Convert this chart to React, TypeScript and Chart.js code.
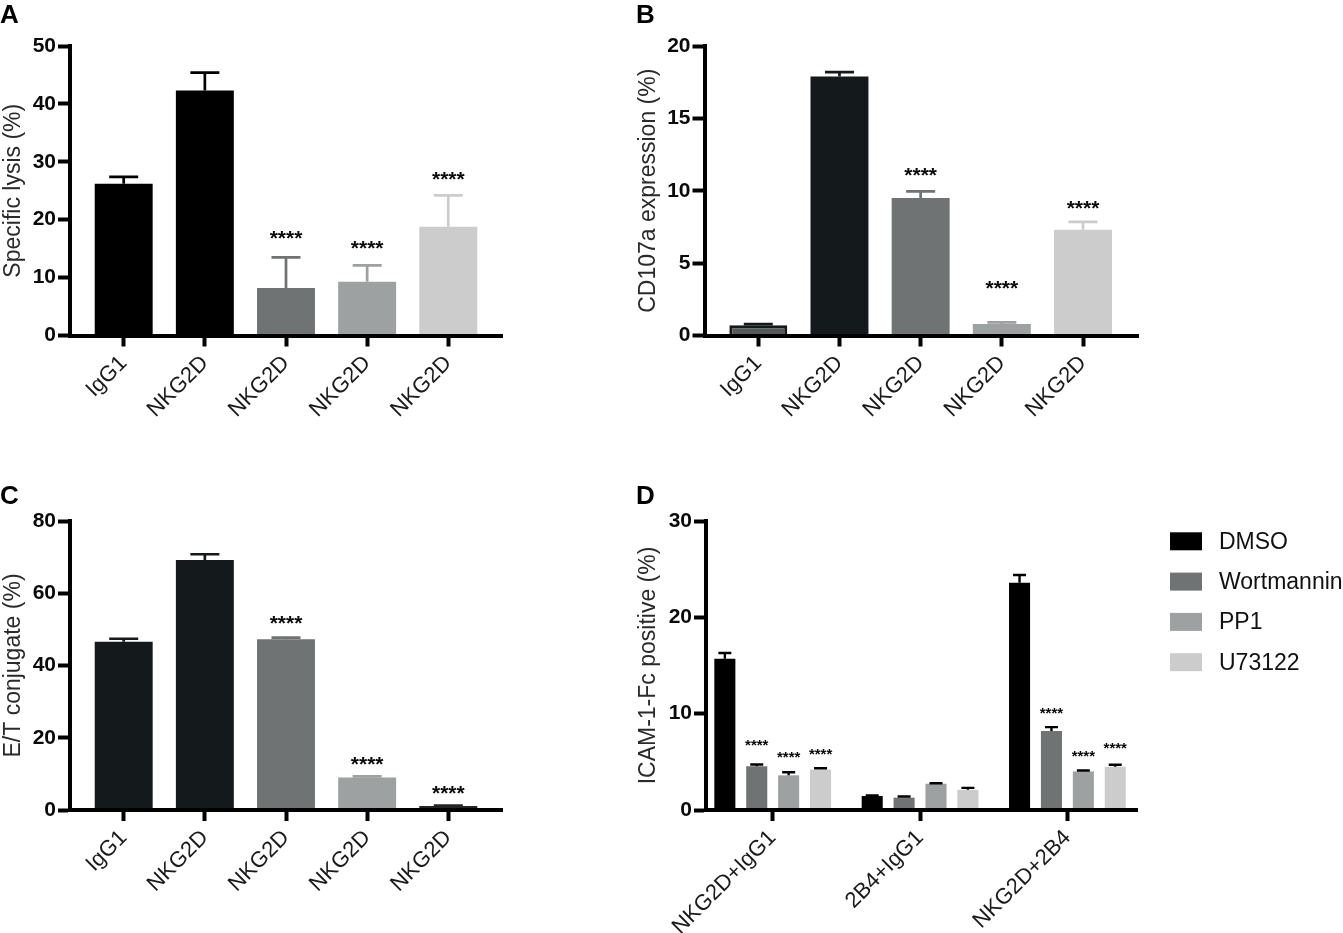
import { useEffect, useRef } from 'react';
import Chart from 'chart.js/auto';

const FONT = '"Liberation Sans", Arial, sans-serif';

const BLACK = '#000000';
const DARK = '#14191b';
const GREY0 = '#555859';
const GREY1 = '#6f7373';
const GREY2 = '#9da1a1';
const GREY3 = '#cccccc';

const singleLabels = ['IgG1', 'NKG2D', 'NKG2D', 'NKG2D', 'NKG2D'];

// panel A
const lysisValues = [26.2, 42.3, 8.2, 9.3, 18.8];
const lysisErrTops = [27.4, 45.4, 13.5, 12.1, 24.2];
const lysisStars = [null, null, 17.4, 15.6, 27.5];
const lysisColors = [BLACK, BLACK, GREY1, GREY2, GREY3];

// panel B
const cd107Values = [0.7, 17.9, 9.5, 0.8, 7.3];
const cd107ErrTops = [0.78, 18.2, 9.95, 0.9, 7.85];
const cd107Stars = [null, null, 11.3, 3.5, 9.03];
const cd107Colors = [GREY0, DARK, GREY1, GREY2, GREY3];
const cd107ErrColors = [DARK, DARK, GREY1, GREY2, GREY3];

// panel C
const conjugateValues = [46.6, 69.2, 47.3, 9.0, 1.1];
const conjugateErrTops = [47.4, 70.8, 47.7, 9.3, 1.2];
const conjugateStars = [null, null, 52.6, 13.65, 5.54];
const conjugateColors = [DARK, DARK, GREY1, GREY2, '#222426'];

// panel D
const groupLabels = ['NKG2D+IgG1', '2B4+IgG1', 'NKG2D+2B4'];
const dmsoValues = [15.7, 1.45, 23.6];
const dmsoErrTops = [16.3, 1.5, 24.4];
const wortValues = [4.55, 1.28, 8.2];
const wortErrTops = [4.72, 1.4, 8.6];
const wortStars = [6.93, null, 10.3];
const pp1Values = [3.6, 2.73, 4.0];
const pp1ErrTops = [3.92, 2.77, 4.1];
const pp1Stars = [5.68, null, 5.77];
const u73Values = [4.2, 2.1, 4.5];
const u73ErrTops = [4.33, 2.3, 4.7];
const u73Stars = [5.99, null, 6.6];

const toPoints = (values: number[]) => values.map((y, x) => ({ x, y }));

// error bars (upper only) and the significance stars above them
const errorBarsPlugin = {
  id: 'errorBars',
  afterDatasetsDraw(chart: any, _args: any, opts: any) {
    const { ctx } = chart;
    const yScale = chart.scales.y;
    chart.data.datasets.forEach((ds: any, d: number) => {
      chart.getDatasetMeta(d).data.forEach((bar: any, i: number) => {
        const top = yScale.getPixelForValue(ds.errTops[i]);
        ctx.save();
        ctx.strokeStyle = Array.isArray(ds.errColors) ? ds.errColors[i] : ds.errColors;
        ctx.lineWidth = opts.lineWidth;
        ctx.beginPath();
        ctx.moveTo(bar.x, bar.y);
        ctx.lineTo(bar.x, top);
        ctx.moveTo(bar.x - opts.capWidth / 2, top);
        ctx.lineTo(bar.x + opts.capWidth / 2, top);
        ctx.stroke();
        const star = ds.stars ? ds.stars[i] : null;
        if (star !== null && star !== undefined) {
          ctx.fillStyle = '#0a0a0a';
          ctx.font = `bold ${opts.starSize}px ${FONT}`;
          ctx.textAlign = 'center';
          ctx.textBaseline = 'alphabetic';
          ctx.fillText('****', bar.x, yScale.getPixelForValue(star) + opts.starSize * 0.47);
        }
        ctx.restore();
      });
    });
  },
};

// legend with the exact swatch to text gap of the figure
const swatchLegendPlugin = {
  id: 'swatchLegend',
  afterDraw(chart: any, _args: any, opts: any) {
    if (!opts.show) return;
    const { ctx } = chart;
    ctx.save();
    chart.data.datasets.forEach((ds: any, i: number) => {
      const cy = opts.top + i * opts.rowHeight;
      ctx.fillStyle = ds.backgroundColor;
      ctx.fillRect(opts.left, cy - 9, 32, 18);
      ctx.fillStyle = '#111111';
      ctx.font = `23px ${FONT}`;
      ctx.textAlign = 'left';
      ctx.textBaseline = 'middle';
      ctx.fillText(ds.label, opts.left + 49, cy + 1);
    });
    ctx.restore();
  },
};

const panels: any[] = [
  {
    letter: 'A', left: 0, top: 0, width: 530, height: 470,
    axisLeft: 70, axisRight: 502, axisTop: 46, axisBottom: 335.5, firstTick: 123.7, lastTick: 448.3,
    yMax: 50, yStep: 10, yTitle: 'Specific lysis (%)', labels: singleLabels,
    datasets: [{ data: toPoints(lysisValues), errTops: lysisErrTops, stars: lysisStars, backgroundColor: lysisColors, errColors: lysisColors }],
    barPct: 0.714, catPct: 1, capWidth: 29, lineWidth: 2.7, starSize: 21,
  },
  {
    letter: 'B', left: 635, top: 0, width: 708, height: 470,
    axisLeft: 704.5, axisRight: 1138, axisTop: 46, axisBottom: 335.5, firstTick: 758.3, lastTick: 1083,
    yMax: 20, yStep: 5, yTitle: 'CD107a expression (%)', labels: singleLabels,
    datasets: [
      {
        data: toPoints(cd107Values),
        errTops: cd107ErrTops,
        stars: cd107Stars,
        backgroundColor: cd107Colors,
        errColors: cd107ErrColors,
        borderColor: DARK,
        borderWidth: [3, 0, 0, 0, 0],
      },
    ],
    barPct: 0.714, catPct: 1, capWidth: 29, lineWidth: 2.7, starSize: 21,
  },
  {
    letter: 'C', left: 0, top: 470, width: 530, height: 463,
    axisLeft: 70, axisRight: 502, axisTop: 521, axisBottom: 810, firstTick: 123.7, lastTick: 448.3,
    yMax: 80, yStep: 20, yTitle: 'E/T conjugate (%)', labels: singleLabels,
    datasets: [{ data: toPoints(conjugateValues), errTops: conjugateErrTops, stars: conjugateStars, backgroundColor: conjugateColors, errColors: conjugateColors }],
    barPct: 0.714, catPct: 1, capWidth: 29, lineWidth: 2.7, starSize: 21,
  },
  {
    letter: 'D', left: 635, top: 470, width: 708, height: 463,
    axisLeft: 706, axisRight: 1137, axisTop: 521, axisBottom: 810, firstTick: 772.7, lastTick: 1067.4,
    yMax: 30, yStep: 10, yTitle: 'ICAM-1-Fc positive (%)', labels: groupLabels,
    datasets: [
      { label: 'DMSO', data: toPoints(dmsoValues), errTops: dmsoErrTops, backgroundColor: BLACK, errColors: BLACK },
      { label: 'Wortmannin', data: toPoints(wortValues), errTops: wortErrTops, stars: wortStars, backgroundColor: GREY1, errColors: BLACK },
      { label: 'PP1', data: toPoints(pp1Values), errTops: pp1ErrTops, stars: pp1Stars, backgroundColor: GREY2, errColors: BLACK },
      { label: 'U73122', data: toPoints(u73Values), errTops: u73ErrTops, stars: u73Stars, backgroundColor: GREY3, errColors: BLACK },
    ],
    barPct: 0.66, catPct: 0.866, capWidth: 13, lineWidth: 2.4, starSize: 15,
    legend: { show: true, left: 535, top: 71.3, rowHeight: 40.3 },
  },
];

const buildConfig = (p: any): any => {
  const spacing = (p.lastTick - p.firstTick) / (p.labels.length - 1);
  return {
    type: 'bar',
    data: { datasets: p.datasets },
    plugins: [errorBarsPlugin, swatchLegendPlugin],
    options: {
      animation: false,
      responsive: false,
      layout: {
        padding: { left: 0, top: p.axisTop - p.top, right: p.left + p.width - p.axisRight, bottom: 0 },
      },
      datasets: { bar: { barPercentage: p.barPct, categoryPercentage: p.catPct } },
      scales: {
        x: {
          type: 'linear',
          offset: false,
          min: (p.axisLeft - p.firstTick) / spacing,
          max: p.labels.length - 1 + (p.axisRight - p.lastTick) / spacing,
          afterFit: (scale: any) => {
            scale.height = p.top + p.height - p.axisBottom;
          },
          border: { color: '#000', width: 4, z: 1 },
          grid: { offset: false, drawOnChartArea: false, drawTicks: true, tickLength: 11, tickWidth: 4, tickColor: '#000', z: 1 },
          ticks: {
            stepSize: 1,
            includeBounds: false,
            autoSkip: false,
            minRotation: 45,
            maxRotation: 45,
            padding: 4,
            color: '#1a1a1a',
            font: { family: FONT, size: 22 },
            callback: (v: number) => p.labels[v],
          },
        },
        y: {
          min: 0,
          max: p.yMax,
          afterFit: (scale: any) => {
            scale.width = p.axisLeft - p.left;
          },
          border: { color: '#000', width: 4, z: 1 },
          grid: { drawOnChartArea: false, drawTicks: true, tickLength: 12, tickWidth: 4, tickColor: '#000', z: 1 },
          ticks: {
            stepSize: p.yStep,
            padding: 2,
            color: '#0a0a0a',
            font: { family: FONT, size: 21, weight: 'bold' },
          },
          title: {
            display: true,
            text: p.yTitle,
            color: '#2a2a2a',
            font: { family: FONT, size: 23 },
            padding: { top: 0, bottom: 0 },
          },
        },
      },
      plugins: {
        legend: { display: false },
        tooltip: { enabled: false },
        errorBars: { capWidth: p.capWidth, lineWidth: p.lineWidth, starSize: p.starSize },
        swatchLegend: p.legend || { show: false },
      },
    },
  };
};

const Panel = ({ panel }: { panel: any }) => {
  const canvasRef = useRef<HTMLCanvasElement | null>(null);

  useEffect(() => {
    if (!canvasRef.current) return;
    const chart = new Chart(canvasRef.current, buildConfig(panel));
    return () => chart.destroy();
  }, [panel]);

  return (
    <>
      <canvas
        ref={canvasRef}
        width={panel.width}
        height={panel.height}
        style={{ position: 'absolute', left: panel.left, top: panel.top }}
      />
      <div
        style={{
          position: 'absolute',
          left: panel.left === 0 ? 0 : 636,
          top: panel.top === 0 ? -1 : 480,
          font: `bold 26px/30px ${FONT}`,
          color: '#000',
        }}
      >
        {panel.letter}
      </div>
    </>
  );
};

export default function App() {
  return (
    <div style={{ position: 'absolute', left: 0, top: 0, width: 1343, height: 933, overflow: 'hidden', background: '#fff' }}>
      {panels.map((p) => (
        <Panel key={p.letter} panel={p} />
      ))}
    </div>
  );
}
